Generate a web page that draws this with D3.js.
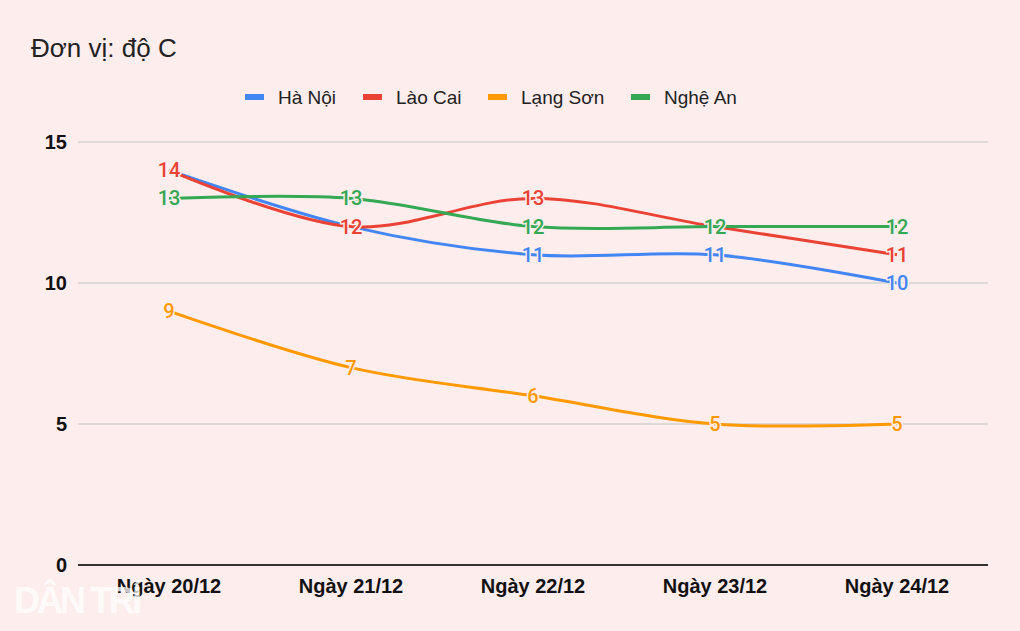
<!DOCTYPE html>
<html><head><meta charset="utf-8">
<script src="https://cdn.jsdelivr.net/npm/d3@7/dist/d3.min.js"></script>
<style>body{margin:0;background:#fdeded;}svg{display:block;}</style>
</head><body>
<svg id="chart" width="1020" height="631"></svg>
<script>
const categories = ["Ngày 20/12","Ngày 21/12","Ngày 22/12","Ngày 23/12","Ngày 24/12"];
const seriesNames = ["Hà Nội","Lào Cai","Lạng Sơn","Nghệ An"];
const haNoi   = [14,12,11,11,10];
const laoCai  = [14,12,13,12,11];
const langSon = [9,7,6,5,5];
const ngheAn  = [13,13,12,12,12];
const yTicks  = [0,5,10,15];
const colors  = ["#4285f4","#ea4335","#ff9900","#34a853"];
const seriesValues = [haNoi, laoCai, langSon, ngheAn];

const bg = "#fdeded";
const svg = d3.select("#chart");
svg.append("rect").attr("width",1020).attr("height",631).attr("fill",bg);

const x = d3.scaleBand().domain(categories).range([78,988]);
const y = d3.scaleLinear().domain([0,15]).range([565,142]);
const cx = c => x(c) + x.bandwidth()/2;

// title
svg.append("text").attr("x",31).attr("y",57).attr("font-family","Liberation Sans, Arial, sans-serif")
  .attr("font-size",26).attr("fill","#222").text("Đơn vị: độ C");

// legend
const legendX = [245,363,488,631];
seriesNames.forEach((n,i)=>{
  const g = svg.append("g").attr("transform",`translate(${legendX[i]},97)`);
  g.append("rect").attr("x",0).attr("y",-3).attr("width",19).attr("height",6).attr("fill",colors[i]);
  g.append("text").attr("x",33).attr("y",7).attr("font-family","Liberation Sans, Arial, sans-serif")
   .attr("font-size",19).attr("fill","#222").text(n);
});

// gridlines
svg.append("g").selectAll("line").data(yTicks.filter(t=>t>0)).join("line")
  .attr("x1",78).attr("x2",988).attr("y1",d=>y(d)).attr("y2",d=>y(d))
  .attr("stroke","#d3d3d3").attr("stroke-width",1.5);
// y labels
svg.append("g").selectAll("text").data(yTicks).join("text")
  .attr("x",67).attr("y",d=>y(d)+7).attr("text-anchor","end")
  .attr("font-family","Liberation Sans, Arial, sans-serif").attr("font-weight","bold")
  .attr("font-size",20).attr("fill","#111").text(d=>d);
// baseline
svg.append("line").attr("x1",78).attr("x2",988).attr("y1",y(0)).attr("y2",y(0))
  .attr("stroke","#333").attr("stroke-width",2);

// x labels
svg.append("g").selectAll("text").data(categories).join("text")
  .attr("x",d=>cx(d)).attr("y",593).attr("text-anchor","middle")
  .attr("font-family","Liberation Sans, Arial, sans-serif").attr("font-weight","bold")
  .attr("font-size",20).attr("fill","#111").text(d=>d);

// watermark (drawn over the first x label, as in the source image)
svg.append("text").attr("x",14).attr("y",613).attr("font-family","Liberation Sans, Arial, sans-serif")
  .attr("font-weight","bold").attr("font-size",36).attr("fill","#ffffff").attr("opacity",0.75)
  .attr("letter-spacing",-3).text("DÂN TRÍ");

const line = d3.line().x((d,i)=>cx(categories[i])).y(d=>y(d)).curve(d3.curveCatmullRom.alpha(0.5));

seriesValues.forEach((vals,si)=>{
  const g = svg.append("g");
  g.append("path").attr("d",line(vals)).attr("fill","none").attr("stroke",colors[si]).attr("stroke-width",3);
  g.selectAll("text").data(vals).join("text")
   .attr("x",(d,i)=>cx(categories[i])).attr("y",d=>y(d)+7).attr("text-anchor","middle")
   .attr("font-family","Roboto, Arial, sans-serif").attr("font-size",20).attr("font-weight",500)
   .attr("fill",colors[si]).attr("stroke",bg).attr("stroke-width",3).attr("paint-order","stroke")
   .attr("stroke-linejoin","round").text(d=>d);
});
</script>
</body></html>
